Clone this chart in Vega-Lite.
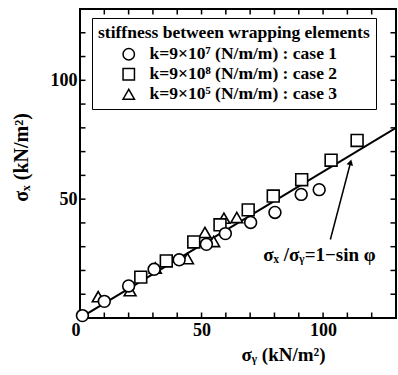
{
  "$schema": "https://vega.github.io/schema/vega-lite/v6.json",
  "width": 316,
  "height": 309,
  "autosize": "none",
  "padding": {"left": 80, "top": 9, "right": 2, "bottom": 57},
  "config": {
    "view": {"stroke": "black", "strokeWidth": 2},
    "font": "Liberation Serif",
    "axis": {"grid": false, "domain": false, "labelColor": "black", "titleColor": "black", "labelFont": "Liberation Serif", "labelFontWeight": "bold", "labelFontSize": 18, "titleFont": "Liberation Serif", "titleFontWeight": "bold", "titleFontSize": 19}
  },
  "datasets": {
    "pts": [
      {"s": 3, "case": "k=9×10⁵ (N/m/m) : case 3", "sy": 7.5, "sx": 9},
      {"s": 3, "case": "k=9×10⁵ (N/m/m) : case 3", "sy": 20.6, "sx": 11.5},
      {"s": 3, "case": "k=9×10⁵ (N/m/m) : case 3", "sy": 31, "sx": 21},
      {"s": 3, "case": "k=9×10⁵ (N/m/m) : case 3", "sy": 44.2, "sx": 25},
      {"s": 3, "case": "k=9×10⁵ (N/m/m) : case 3", "sy": 51.4, "sx": 36},
      {"s": 3, "case": "k=9×10⁵ (N/m/m) : case 3", "sy": 55, "sx": 32.2},
      {"s": 3, "case": "k=9×10⁵ (N/m/m) : case 3", "sy": 59.2, "sx": 42},
      {"s": 3, "case": "k=9×10⁵ (N/m/m) : case 3", "sy": 64.5, "sx": 42.3},
      {"s": 2, "case": "k=9×10⁸ (N/m/m) : case 2", "sy": 25, "sx": 17.2},
      {"s": 2, "case": "k=9×10⁸ (N/m/m) : case 2", "sy": 35.5, "sx": 24},
      {"s": 2, "case": "k=9×10⁸ (N/m/m) : case 2", "sy": 46.8, "sx": 32},
      {"s": 2, "case": "k=9×10⁸ (N/m/m) : case 2", "sy": 57.6, "sx": 39.2},
      {"s": 2, "case": "k=9×10⁸ (N/m/m) : case 2", "sy": 69.2, "sx": 45.5},
      {"s": 2, "case": "k=9×10⁸ (N/m/m) : case 2", "sy": 79.5, "sx": 51.3},
      {"s": 2, "case": "k=9×10⁸ (N/m/m) : case 2", "sy": 91.2, "sx": 58.2},
      {"s": 2, "case": "k=9×10⁸ (N/m/m) : case 2", "sy": 103.3, "sx": 66.4},
      {"s": 2, "case": "k=9×10⁸ (N/m/m) : case 2", "sy": 114, "sx": 74.7},
      {"s": 1, "case": "k=9×10⁷ (N/m/m) : case 1", "sy": 1, "sx": 1},
      {"s": 1, "case": "k=9×10⁷ (N/m/m) : case 1", "sy": 10, "sx": 7},
      {"s": 1, "case": "k=9×10⁷ (N/m/m) : case 1", "sy": 20, "sx": 13.5},
      {"s": 1, "case": "k=9×10⁷ (N/m/m) : case 1", "sy": 30.5, "sx": 20.5},
      {"s": 1, "case": "k=9×10⁷ (N/m/m) : case 1", "sy": 40.8, "sx": 24.5},
      {"s": 1, "case": "k=9×10⁷ (N/m/m) : case 1", "sy": 52, "sx": 31},
      {"s": 1, "case": "k=9×10⁷ (N/m/m) : case 1", "sy": 59.8, "sx": 35.5},
      {"s": 1, "case": "k=9×10⁷ (N/m/m) : case 1", "sy": 70.2, "sx": 40.2},
      {"s": 1, "case": "k=9×10⁷ (N/m/m) : case 1", "sy": 80.2, "sx": 44.4},
      {"s": 1, "case": "k=9×10⁷ (N/m/m) : case 1", "sy": 91, "sx": 52},
      {"s": 1, "case": "k=9×10⁷ (N/m/m) : case 1", "sy": 98.4, "sx": 54}
    ],
    "ticks": [
      {"v": 10}, {"v": 20}, {"v": 30}, {"v": 40}, {"v": 50}, {"v": 60},
      {"v": 70}, {"v": 80}, {"v": 90}, {"v": 100}, {"v": 110}, {"v": 120}
    ]
  },
  "layer": [
    {
      "data": {"values": [{"sy": 0, "sx": 0}, {"sy": 130, "sx": 80}]},
      "mark": {"type": "line", "color": "black", "strokeWidth": 2, "clip": true},
      "encoding": {
        "x": {"field": "sy", "type": "quantitative", "scale": {"domain": [0, 130], "nice": false},
          "axis": {"orient": "bottom", "values": [0, 50, 100], "ticks": false,
            "labelAlign": {"condition": {"test": "datum.value === 0", "value": "right"}, "value": "center"},
            "labelPadding": 3,
            "title": "σᵧ  (kN/m²)", "titleX": 203, "titleY": 27}},
        "y": {"field": "sx", "type": "quantitative", "scale": {"domain": [0, 130], "nice": false},
          "axis": {"orient": "left", "values": [50, 100], "ticks": false,
            "labelPadding": 3,
            "title": "σₓ  (kN/m²)", "titleX": -49, "titleY": 148, "titleFontSize": 20}}
      }
    },
    {
      "data": {"name": "ticks"},
      "mark": {"type": "tick", "orient": "vertical", "color": "black", "thickness": 1.5, "size": 11, "clip": true, "opacity": 1},
      "encoding": {
        "x": {"field": "v", "type": "quantitative"},
        "y": {"datum": 0, "type": "quantitative"}
      }
    },
    {
      "data": {"name": "ticks"},
      "mark": {"type": "tick", "orient": "vertical", "color": "black", "thickness": 1.5, "size": 11, "clip": true, "opacity": 1},
      "encoding": {
        "x": {"field": "v", "type": "quantitative"},
        "y": {"datum": 130, "type": "quantitative"}
      }
    },
    {
      "data": {"name": "ticks"},
      "mark": {"type": "tick", "orient": "horizontal", "color": "black", "thickness": 1.5, "size": 11, "clip": true, "opacity": 1},
      "encoding": {
        "y": {"field": "v", "type": "quantitative"},
        "x": {"datum": 0, "type": "quantitative"}
      }
    },
    {
      "data": {"name": "ticks"},
      "mark": {"type": "tick", "orient": "horizontal", "color": "black", "thickness": 1.5, "size": 11, "clip": true, "opacity": 1},
      "encoding": {
        "y": {"field": "v", "type": "quantitative"},
        "x": {"datum": 130, "type": "quantitative"}
      }
    },
    {
      "data": {"values": [{"sy": 103, "sx": 33}, {"sy": 111.2, "sx": 65}]},
      "mark": {"type": "line", "color": "black", "strokeWidth": 1.5},
      "encoding": {
        "x": {"field": "sy", "type": "quantitative"},
        "y": {"field": "sx", "type": "quantitative"}
      }
    },
    {
      "data": {"values": [{"sy": 111.3, "sx": 65.5}]},
      "mark": {"type": "point", "shape": "triangle-up", "filled": true, "color": "black", "size": 45, "angle": 15, "opacity": 1},
      "encoding": {
        "x": {"field": "sy", "type": "quantitative"},
        "y": {"field": "sx", "type": "quantitative"}
      }
    },
    {
      "data": {"values": [{"sy": 98.5, "sx": 26.5, "t": "σₓ /σᵧ=1−sin φ"}]},
      "mark": {"type": "text", "font": "Liberation Serif", "fontWeight": "bold", "fontSize": 19, "color": "black"},
      "encoding": {
        "x": {"field": "sy", "type": "quantitative"},
        "y": {"field": "sx", "type": "quantitative"},
        "text": {"field": "t"}
      }
    },
    {
      "data": {"name": "pts"},
      "mark": {"type": "point", "filled": true, "fill": "white", "stroke": "black", "strokeWidth": 1.6, "size": 140, "opacity": 1},
      "encoding": {
        "x": {"field": "sy", "type": "quantitative"},
        "y": {"field": "sx", "type": "quantitative"},
        "shape": {"field": "case", "type": "nominal",
          "scale": {"domain": ["k=9×10⁷ (N/m/m) : case 1", "k=9×10⁸ (N/m/m) : case 2", "k=9×10⁵ (N/m/m) : case 3"], "range": ["circle", "square", "triangle-up"]},
          "legend": {"title": "stiffness between wrapping elements", "orient": "none", "legendX": 12, "legendY": 9,
            "strokeColor": "black", "padding": 6, "fillColor": "white", "labelLimit": 0, "titleLimit": 0,
            "titleFont": "Liberation Serif", "titleFontSize": 17.5, "titleFontWeight": "bold", "titleColor": "black", "titlePadding": 4,
            "labelFont": "Liberation Serif", "labelFontSize": 17.5, "labelFontWeight": "bold", "labelColor": "black",
            "symbolSize": 130, "symbolOffset": 22, "rowPadding": 1, "labelOffset": 12,
            "encode": {"symbols": {"update": {"fill": {"value": "white"}, "stroke": {"value": "black"}, "strokeWidth": {"value": 1.6}, "opacity": {"value": 1}}}}}}
      }
    }
  ]
}
